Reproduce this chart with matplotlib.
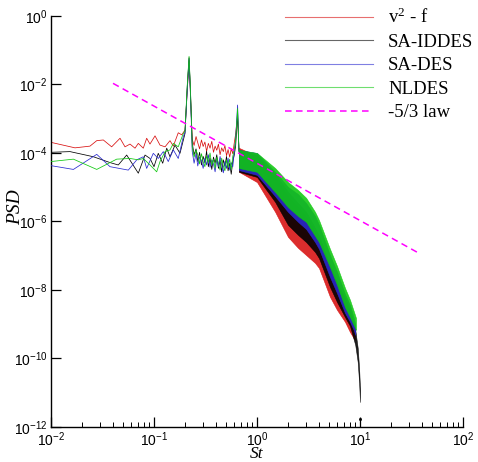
import numpy as np
import matplotlib
matplotlib.use("Agg")
import matplotlib.pyplot as plt
from matplotlib.ticker import FixedLocator, FixedFormatter, NullLocator, NullFormatter

# ---------------- data (St, log10 PSD) ----------------
# low-frequency part up to the first peak (lines)
red_st_a = [0.0100, 0.0171, 0.0239, 0.0278, 0.0322, 0.0388, 0.0468, 0.0523, 0.0585, 0.0654,
            0.0704, 0.0787, 0.0849, 0.0914, 0.1023, 0.1144, 0.1280, 0.1430, 0.1540, 0.1720,
            0.1860, 0.2000, 0.2100, 0.2190, 0.2260]
red_lg_a = [-3.69, -3.85, -3.80, -3.64, -3.62, -3.82, -3.57, -3.82, -3.74, -3.86,
            -3.72, -3.86, -3.57, -3.74, -3.50, -3.77, -3.82, -3.64, -3.80, -3.41,
            -3.47, -3.33, -2.20, -1.30, -2.30]
black_st_a = [0.0100, 0.0153, 0.0258, 0.0374, 0.0450, 0.0543, 0.0704, 0.0818, 0.0915, 0.1000,
              0.1100, 0.1215, 0.1329, 0.1430, 0.1600, 0.1788, 0.2000, 0.2100, 0.2190, 0.2260]
black_lg_a = [-3.98, -3.96, -4.11, -4.28, -4.35, -4.06, -4.59, -4.06, -4.16, -4.40,
              -4.01, -4.30, -3.86, -4.11, -3.77, -4.01, -3.43, -2.10, -1.22, -2.20]
blue_st_a = [0.0100, 0.0165, 0.0278, 0.0374, 0.0563, 0.0680, 0.0787, 0.0849, 0.0984, 0.1100,
             0.1231, 0.1376, 0.1540, 0.1720, 0.1926, 0.2000, 0.2100, 0.2190, 0.2260]
blue_lg_a = [-4.37, -4.48, -4.04, -4.40, -4.50, -4.20, -4.11, -4.45, -4.01, -4.16,
             -3.96, -4.25, -3.91, -4.16, -3.52, -3.40, -2.20, -1.25, -2.30]
green_st_a = [0.0100, 0.0165, 0.0278, 0.0434, 0.0585, 0.0704, 0.0787, 0.0915, 0.1062, 0.1144,
              0.1280, 0.1430, 0.1540, 0.1720, 0.1926, 0.2000, 0.2100, 0.2190, 0.2260]
green_lg_a = [-4.25, -4.18, -4.48, -4.18, -4.16, -4.20, -4.16, -4.35, -4.55, -4.25,
              -3.96, -3.91, -3.72, -3.82, -3.43, -3.35, -2.05, -1.18, -2.15]

# between the two peaks and the second peak (shared St grid)
mid_st = [0.235, 0.245, 0.256, 0.266, 0.277, 0.289, 0.300, 0.312, 0.324, 0.337,
          0.350, 0.364, 0.378, 0.392, 0.407, 0.422, 0.438, 0.454, 0.471, 0.488,
          0.506, 0.524, 0.543, 0.562, 0.582, 0.602, 0.620, 0.635, 0.648, 0.668]
red_lg_b = [-3.60, -3.78, -3.52, -3.70, -3.88, -3.62, -3.81, -3.68, -3.95, -3.72,
            -3.86, -3.66, -3.98, -3.80, -3.92, -3.74, -4.05, -3.85, -3.96, -3.78,
            -4.08, -3.90, -4.12, -3.88, -4.02, -3.70, -3.45, -3.15, -2.95, -3.90]
black_lg_b = [-3.70, -4.05, -3.88, -4.25, -3.98, -4.35, -4.10, -4.28, -3.95, -4.40,
              -4.15, -4.48, -4.12, -4.30, -4.05, -4.45, -4.22, -4.55, -4.20, -4.38,
              -4.10, -4.52, -4.30, -4.62, -4.25, -4.05, -3.80, -3.30, -2.80, -3.95]
blue_lg_b = [-3.95, -4.30, -4.02, -4.38, -4.12, -4.22, -4.45, -4.15, -4.35, -4.05,
             -4.42, -4.20, -4.32, -4.55, -4.18, -4.40, -4.10, -4.35, -4.58, -4.25,
             -4.45, -4.15, -4.50, -4.28, -4.40, -3.95, -3.60, -3.05, -2.60, -3.95]
green_lg_b = [-3.82, -4.12, -3.92, -4.05, -4.32, -4.02, -4.25, -4.40, -4.08, -4.28,
              -4.00, -4.35, -4.18, -4.45, -4.12, -4.30, -4.50, -4.15, -4.38, -4.52,
              -4.20, -4.42, -4.18, -4.48, -4.10, -3.90, -3.65, -3.15, -2.70, -3.95]

# high-frequency part: upper / lower envelope of the dense noisy spectrum
red_band_st = [0.668, 1.0, 1.5, 2.0, 2.5, 3.0, 3.66, 4.0, 5.11, 5.98, 7.15, 8.0, 8.9]
red_hi = [-3.85, -4.09, -4.73, -5.28, -5.58, -5.87, -6.31, -6.54, -7.36, -7.85, -8.35, -8.67, -9.11]
red_lo = [-4.55, -4.85, -5.72, -6.45, -6.77, -6.98, -7.21, -7.36, -8.20, -8.58, -8.93, -9.23, -9.46]

black_band_st = [0.668, 1.0, 1.5, 2.0, 2.5, 3.0, 3.66, 4.0, 5.11, 5.98, 7.15, 8.0, 9.0, 9.5, 9.8, 10.0]
black_hi = [-3.91, -4.06, -4.61, -5.14, -5.46, -5.72, -6.19, -6.42, -7.27, -7.77, -8.23, -8.58,
            -9.17, -9.69, -10.28, -10.86]
black_lo = [-4.55, -4.70, -5.43, -6.10, -6.39, -6.60, -6.89, -7.07, -7.91, -8.35, -8.79, -9.05,
            -9.61, -10.10, -10.69, -11.27]

blue_band_st = [0.668, 1.0, 1.5, 2.0, 2.5, 3.0, 3.66, 4.0, 5.11, 5.98, 7.15, 8.0, 8.7, 9.0]
blue_hi = [-3.91, -4.00, -4.55, -4.99, -5.20, -5.46, -5.84, -6.10, -6.98, -7.47, -8.12, -8.44, -8.82, -9.02]
blue_lo = [-4.50, -4.64, -5.26, -5.72, -6.01, -6.22, -6.60, -6.80, -7.62, -8.09, -8.67, -8.93, -9.17, -9.31]

green_band_st = [0.668, 1.0, 1.5, 2.0, 2.5, 3.0, 3.66, 4.0, 5.11, 5.98, 7.15, 8.0, 9.15]
green_hi = [-3.91, -4.00, -4.44, -4.85, -5.08, -5.31, -5.72, -5.96, -6.80, -7.30, -7.94, -8.29, -8.82]
green_lo = [-4.44, -4.55, -5.14, -5.58, -5.84, -6.01, -6.42, -6.60, -7.33, -7.85, -8.50, -8.79, -9.17]

black_tail_st = [10.0]
black_tail_lg = [-11.77]

# -5/3 law reference line
law_st = [0.04, 38.0]
law_psd = [1.08e-2, 1.15e-7]

labels = [r"v$\mathregular{^2}$ - f", "SA-IDDES", "SA-DES", "NLDES", "-5/3 law"]
colors = ["#d81010", "#000000", "#2a2ad0", "#10c810", "#ff00ff"]

xtick_vals = [1e-2, 1e-1, 1e0, 1e1, 1e2]
xtick_labels = [r"$\mathregular{10^{-2}}$", r"$\mathregular{10^{-1}}$", r"$\mathregular{10^{0}}$",
                r"$\mathregular{10^{1}}$", r"$\mathregular{10^{2}}$"]
ytick_vals = [1e0, 1e-2, 1e-4, 1e-6, 1e-8, 1e-10, 1e-12]
ytick_labels = [r"$\mathregular{10^{0}}$", r"$\mathregular{10^{-2}}$", r"$\mathregular{10^{-4}}$",
                r"$\mathregular{10^{-6}}$", r"$\mathregular{10^{-8}}$", r"$\mathregular{10^{-10}}$",
                r"$\mathregular{10^{-12}}$"]

# ---------------- figure ----------------
fig = plt.figure(figsize=(4.78, 4.62), dpi=100)
ax = fig.add_axes([0.1067, 0.0758, 0.8619, 0.8896])
ax.set_xscale("log")
ax.set_yscale("log")

series = [
    (red_st_a, red_lg_a, red_lg_b, red_band_st, red_hi, red_lo),
    (black_st_a, black_lg_a, black_lg_b, black_band_st, black_hi, black_lo),
    (blue_st_a, blue_lg_a, blue_lg_b, blue_band_st, blue_hi, blue_lo),
    (green_st_a, green_lg_a, green_lg_b, green_band_st, green_hi, green_lo),
]
handles = []
for i, (st_a, lg_a, lg_b, bst, hi, lo) in enumerate(series):
    c = colors[i]
    st = list(st_a) + list(mid_st)
    lg = np.array(list(lg_a) + list(lg_b))
    h, = ax.plot(st, 10.0 ** lg, color=c, lw=0.55, zorder=2 + i, label=labels[i])
    ax.fill_between(bst, 10.0 ** np.array(hi), 10.0 ** np.array(lo), facecolor=c,
                    edgecolor=c, lw=0.4, alpha=0.88, zorder=2 + i)
    handles.append(h)
ax.plot(black_tail_st, 10.0 ** np.array(black_tail_lg), ls="none", marker="s", ms=1.0,
        color="black", zorder=3)
hl, = ax.plot(law_st, law_psd, color=colors[4], lw=1.1, ls=(0, (4.3, 2.9)), zorder=8,
              label=labels[4])
handles.append(hl)

ax.set_xlim(1e-2, 1e2)
ax.set_ylim(1e-12, 1e0)

ax.xaxis.set_major_locator(FixedLocator(xtick_vals))
ax.xaxis.set_major_formatter(FixedFormatter(xtick_labels))
ax.xaxis.set_minor_locator(FixedLocator([m * d for d in [1e-2, 1e-1, 1e0, 1e1] for m in range(2, 10)]))
ax.xaxis.set_minor_formatter(NullFormatter())
ax.yaxis.set_major_locator(FixedLocator(ytick_vals))
ax.yaxis.set_major_formatter(FixedFormatter(ytick_labels))
ax.yaxis.set_minor_locator(NullLocator())

for s in ["top", "right"]:
    ax.spines[s].set_visible(False)
for s in ["left", "bottom"]:
    ax.spines[s].set_linewidth(1.0)

ax.tick_params(which="both", direction="in", top=False, right=False, width=0.9,
               labelsize=10, pad=2.5)
ax.tick_params(which="major", length=7.2)
ax.tick_params(which="minor", length=3.6, width=0.7)
for t in ax.get_xticklabels() + ax.get_yticklabels():
    t.set_family("Liberation Sans")

ax.set_ylabel("PSD", family="Liberation Serif", style="italic", fontsize=14)
ax.yaxis.set_label_coords(-0.066, 0.535)
ax.set_xlabel("St", family="Liberation Serif", style="italic", fontsize=12.5,
              va="baseline")
ax.xaxis.set_label_coords(0.5, -0.0755)

leg = fig.legend(handles=handles, labels=labels, loc="upper left",
                 bbox_to_anchor=(285 / 478, 1 - 8 / 462), frameon=False,
                 prop={"family": "Liberation Serif", "size": 13.5},
                 handlelength=4.7, handletextpad=0.8, labelspacing=0.34,
                 borderpad=0, borderaxespad=0)
for ln in leg.get_lines()[:4]:
    ln.set_linewidth(0.8)
    ln.set_alpha(0.6)

fig.savefig("out.png", dpi=100)
